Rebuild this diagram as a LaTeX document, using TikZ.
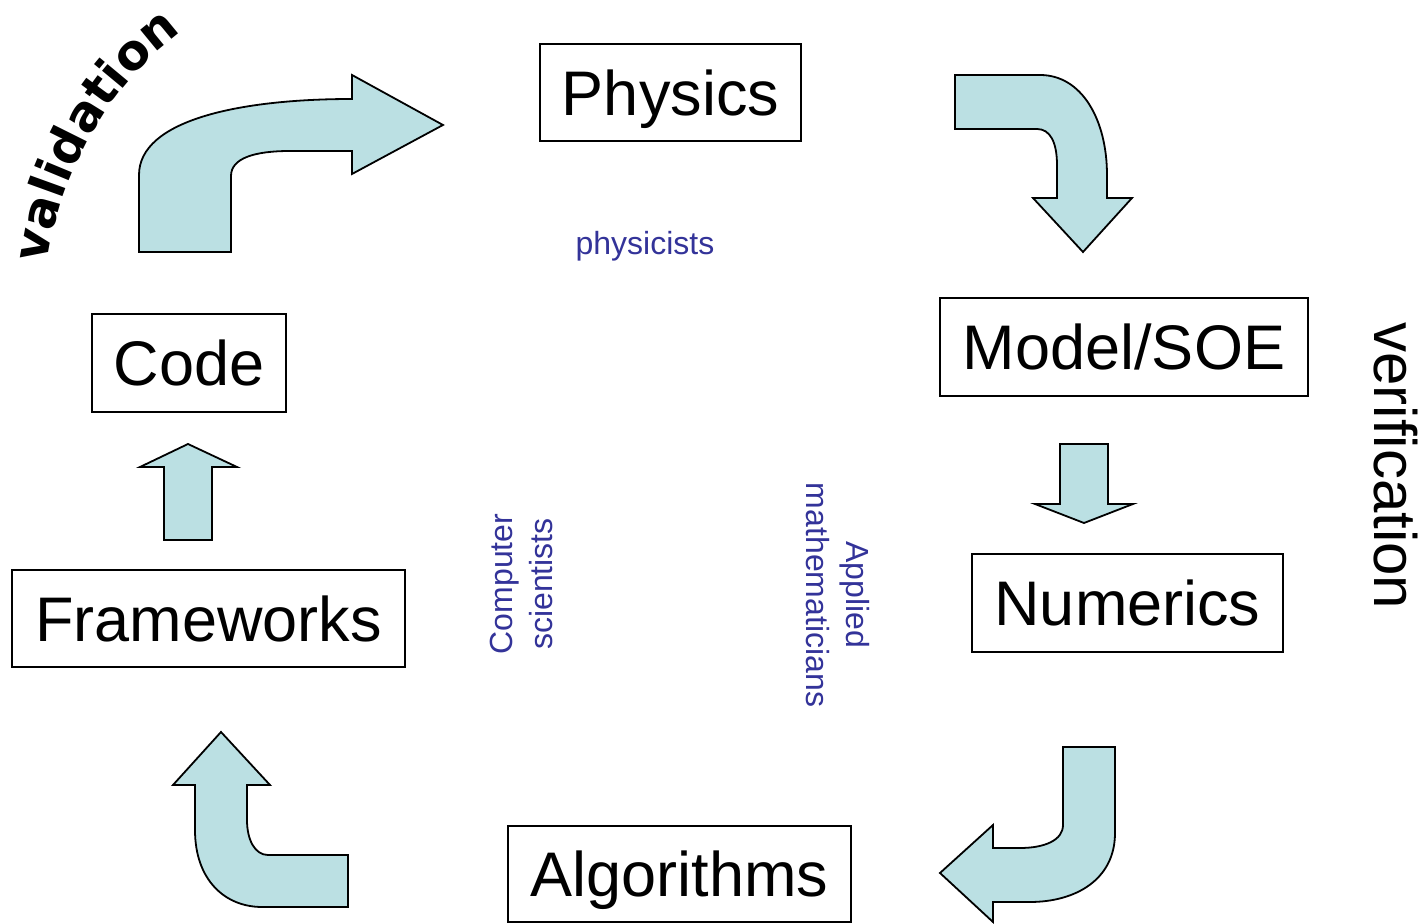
\documentclass[tikz,border=0pt]{standalone}
\usepackage{fontspec}
\setmainfont{Liberation Sans}
\newfontfamily\heavyfont{DejaVu Sans}
\usetikzlibrary{decorations.text}
\definecolor{arrowfill}{RGB}{187,224,227}
\definecolor{labelblue}{RGB}{51,51,153}
\begin{document}
\begin{tikzpicture}[x=0.5pt,y=-0.5pt,
  box/.style={draw=black, line width=0.9pt, fill=white, inner sep=0pt, outer sep=0pt,
    font=\fontsize{31.5}{36}\selectfont, text height=22.6pt, text depth=0pt},
  blockarrow/.style={draw=black, line width=0.9pt, fill=arrowfill, line join=miter},
  lbl/.style={text=labelblue, font=\fontsize{16}{20}\selectfont, inner sep=0pt}]
\fill[white] (0,0) rectangle (1421,924);
\useasboundingbox (0,0) rectangle (1421,924);

% boxes
\node[box, minimum width=130.5pt, minimum height=48.5pt] (physics) at (670.5,92.5) {Physics};
\node[box, minimum width=184pt, minimum height=49pt] (model) at (1124,347) {Model/SOE};
\node[box, minimum width=155.5pt, minimum height=49pt] (numerics) at (1127.5,603) {Numerics};
\node[box, minimum width=171.5pt, minimum height=48pt] (algorithms) at (679.5,874) {Algorithms};
\node[box, minimum width=196.5pt, minimum height=48.5pt] (frameworks) at (208.5,618.5) {Frameworks};
\node[box, minimum width=97pt, minimum height=49pt] (code) at (189,363) {Code};

% block arrows
\draw[blockarrow] (139,252) -- (139,175) .. controls (139,120) and (240,99) .. (352,99)
  -- (352,75) -- (443,125) -- (352,174) -- (352,151) -- (290,151)
  .. controls (255,151) and (231,158) .. (231,176) -- (231,252) -- cycle;
\draw[blockarrow] (955,75) -- (1040,75) .. controls (1082,75) and (1107,120) .. (1107,175)
  -- (1107,198) -- (1132,198) -- (1083,252) -- (1033,198) -- (1057,198) -- (1057,165)
  .. controls (1057,142) and (1050,129) .. (1037,129) -- (955,129) -- cycle;
\draw[blockarrow] (1063,747) -- (1115,747) -- (1115,833) .. controls (1115,880) and (1075,902) .. (1030,902)
  -- (993,902) -- (993,922) -- (940,873) -- (993,825) -- (993,848) -- (1020,848)
  .. controls (1045,848) and (1063,840) .. (1063,825) -- cycle;
\draw[blockarrow] (348,907) -- (348,855) -- (268,855) .. controls (255,855) and (247,840) .. (247,820)
  -- (247,785) -- (270,785) -- (221,732) -- (173,785) -- (195,785) -- (195,830)
  .. controls (195,880) and (225,907) .. (262,907) -- cycle;
\draw[blockarrow] (1060,444) -- (1108,444) -- (1108,504) -- (1133,504) -- (1084,523)
  -- (1035,504) -- (1060,504) -- cycle;
\draw[blockarrow] (164,540) -- (164,467) -- (140,467) -- (188,444) -- (237,467)
  -- (212,467) -- (212,540) -- cycle;

% labels
\node[lbl] (phys) at (645,246) {physicists};
\node[lbl, rotate=90, align=center] (cs) at (521,584) {Computer\\scientists};
\node[lbl, rotate=-90, align=center] (am) at (838,595) {Applied\\mathematicians};
\node[rotate=-90, inner sep=0pt, font=\fontsize{30}{36}\selectfont] (verif) at (1396,466) {verification};
\path[decorate, decoration={text along path,
  text={|\heavyfont\bfseries\fontsize{24.5}{24.5}\selectfont|validation}, text align=center}]
  (47,264) .. controls (58,180) and (106,87) .. (182,32);
\end{tikzpicture}
\end{document}
